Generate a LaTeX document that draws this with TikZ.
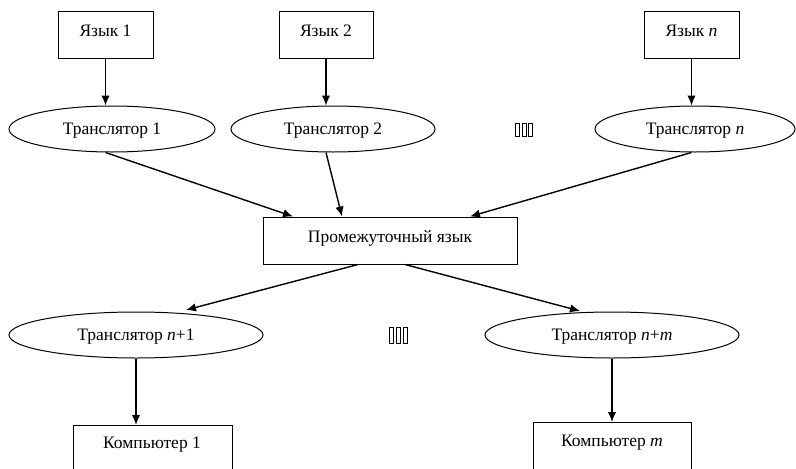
\documentclass[tikz,border=0pt]{standalone}
\usepackage{fontspec}
\setmainfont{Liberation Serif}
\usetikzlibrary{shapes.geometric,arrows.meta}
\begin{document}
\begin{tikzpicture}[x=1pt,y=-1pt,
  every node/.style={font=\fontsize{17.5}{20}\selectfont, inner sep=0pt},
  lbox/.style={draw, line width=1pt, minimum height=47pt, text height=10pt, text depth=6pt},
  tell/.style={draw, ellipse, line width=1pt, minimum height=46pt, text height=11.6pt, text depth=0pt},
  ctext/.style={text height=11.6pt, text depth=0pt},
  arr/.style={line width=1.4pt, -{Latex[length=10pt,width=8.5pt]}},
  tofu/.style={line width=0.7pt}]
\useasboundingbox (0,0) rectangle (796,469);
\clip (0,0) rectangle (796,469);
% top language boxes
\node[lbox, minimum width=95pt] (L1) at (105.5,34.5) {Язык 1};
\node[lbox, minimum width=94pt] (L2) at (326,34.5) {Язык 2};
\node[lbox, minimum width=95pt] (Ln) at (691.5,34.5) {Язык \textit{n}};
% translators
\node[tell, minimum width=206pt] (T1) at (112,129) {Транслятор 1};
\node[tell, minimum width=204pt] (T2) at (333,129) {Транслятор 2};
\node[tell, minimum width=200pt] (Tn) at (695,129) {Транслятор \textit{n}};
% intermediate
\node[lbox, minimum width=254pt] (M) at (390,240.5) {Промежуточный язык};
% lower translators
\node[tell, minimum width=254pt] (Tn1) at (136,335) {Транслятор \textit{n}+1};
\node[tell, minimum width=254pt] (Tnm) at (612,335) {Транслятор \textit{n}+\textit{m}};
% computers (cut by the lower edge)
\node[draw, line width=1pt, minimum width=159pt, minimum height=70pt, anchor=north] (C1) at (152.5,425) {};
\node[ctext] (C1t) at (152,443) {Компьютер 1};
\node[draw, line width=1pt, minimum width=158pt, minimum height=70pt, anchor=north] (Cm) at (612,422) {};
\node[ctext] (Cmt) at (612,440.5) {Компьютер \textit{m}};
% arrows top
\draw[arr] (L1.south) -- (L1.south |- T1.north);
\draw[arr] (L2.south) -- (L2.south |- T2.north);
\draw[arr] (Ln.south) -- (Ln.south |- Tn.north);
\draw[arr] (L1.south |- T1.south) -- ([xshift=-97pt]M.north);
\draw[arr] (L2.south |- T2.south) -- ([xshift=-48pt]M.north);
\draw[arr] (Ln.south |- Tn.south) -- ([xshift=80pt]M.north);
% arrows bottom
\draw[arr] ([xshift=-32pt]M.south) -- ([xshift=50pt,yshift=1.5pt]Tn1.north);
\draw[arr] ([xshift=15pt]M.south) -- ([xshift=-32pt,yshift=0.5pt]Tnm.north);
\draw[arr] (Tn1.south) -- (Tn1.south |- C1.north);
\draw[arr] (Tnm.south) -- (Tnm.south |- Cm.north);
% placeholder glyph boxes
\foreach \x in {515.5,522,528.5}{
  \draw[tofu] (\x,123.5) rectangle ++(4,13);
}
\foreach \x in {389,396,403}{
  \draw[tofu] (\x,327.5) rectangle ++(4,16);
}
\end{tikzpicture}
\end{document}
